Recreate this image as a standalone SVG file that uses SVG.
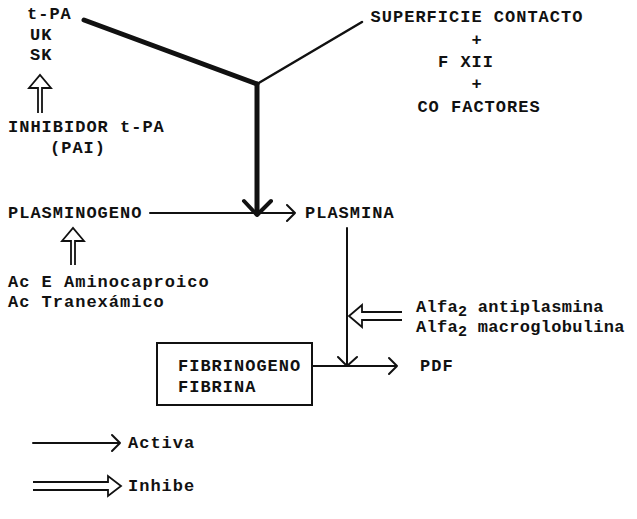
<svg xmlns="http://www.w3.org/2000/svg" width="637" height="519" viewBox="0 0 637 519">
<style>
text{font-family:"Liberation Mono","Courier New",monospace;font-size:17px;font-weight:bold;fill:#111;letter-spacing:1px}
.mid{text-anchor:middle}
.tight{letter-spacing:0.3px}
.ln{stroke:#111;fill:none;stroke-linecap:round;stroke-linejoin:round}
.thin{stroke-width:2}
.thick{stroke-width:5}
.hol{stroke:#111;stroke-width:1.8;fill:none;stroke-linejoin:miter}
</style>
<rect width="637" height="519" fill="#fff"/>
<g id="activators">
<text x="27" y="19">t-PA</text>
<text x="30" y="40">UK</text>
<text x="30" y="60">SK</text>
</g>
<g id="inhibidor-tpa">
<text x="8" y="132">INHIBIDOR t-PA</text>
<text x="50" y="153">(PAI)</text>
</g>
<g id="superficie">
<text class="mid" x="477" y="22">SUPERFICIE CONTACTO</text>
<text class="mid" x="477" y="45">+</text>
<text class="mid" x="466" y="67">F XII</text>
<text class="mid" x="477" y="89">+</text>
<text class="mid" x="479" y="112">CO FACTORES</text>
</g>
<g id="plasminogeno"><text x="8" y="218">PLASMINOGENO</text></g>
<g id="plasmina"><text x="305" y="218">PLASMINA</text></g>
<g id="antifibrinoliticos">
<text x="8" y="287">Ac E Aminocaproico</text>
<text x="8" y="307">Ac Tranexámico</text>
</g>
<g id="alfa2">
<text class="tight" x="416" y="312">Alfa<tspan dy="4" font-size="15">2</tspan><tspan dy="-4"> antiplasmina</tspan></text>
<text class="tight" x="416" y="332">Alfa<tspan dy="4" font-size="15">2</tspan><tspan dy="-4"> macroglobulina</tspan></text>
</g>
<g id="fibrinogeno">
<rect x="157" y="343" width="155" height="62" fill="none" stroke="#111" stroke-width="2"/>
<text x="178" y="371">FIBRINOGENO</text>
<text x="178" y="392">FIBRINA</text>
</g>
<g id="pdf"><text x="420" y="371">PDF</text></g>
<g id="legend">
<text x="128" y="448">Activa</text>
<text x="128" y="491">Inhibe</text>
</g>
<g id="connectors">
<path class="ln thick" d="M84 20 L257 84"/>
<path class="ln" stroke-width="2.5" d="M362 22 L257 84"/>
<path class="ln thick" d="M257 84 L257 214"/>
<path class="ln" stroke-width="4" d="M244 201 L257 215 L271 201"/>
<path class="ln thin" d="M150 213 L295 213 M287 205 L295 213 L287 221"/>
<path class="ln thin" d="M347 228 L347 366 M338 357 L347 366 L357 357"/>
<path class="ln thin" d="M312 366 L397 366 M389 358 L397 366 L389 374"/>
<path class="hol" d="M38 113 L38 88 L29 88 L40 75 L51 88 L42 88 L42 113"/>
<path class="hol" d="M71 265 L71 241 L62 241 L73 228 L84 241 L75 241 L75 265"/>
<path class="hol" d="M402 312 L362 312 L362 305 L349 316 L362 327 L362 320 L402 320"/>
<path class="ln thin" d="M33 443 L120 443 M112 435 L120 443 L112 451"/>
<path class="hol" d="M33 482 L108 482 L108 476 L121 486 L108 496 L108 490 L33 490"/>
</g>
</svg>
